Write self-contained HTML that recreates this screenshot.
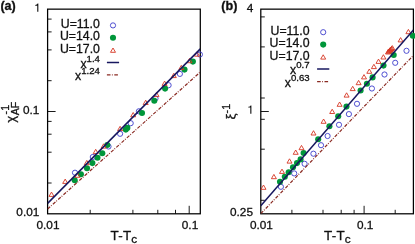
<!DOCTYPE html>
<html><head><meta charset="utf-8"><title>fig</title>
<style>
html,body{margin:0;padding:0;background:#fff;}
body{width:415px;height:244px;overflow:hidden;font-family:"Liberation Sans",sans-serif;}
svg{display:block;will-change:transform;}
svg text{font-family:"Liberation Sans",sans-serif;fill:#111;stroke:#111;stroke-width:0.3px;}
</style></head><body>
<svg width="415" height="244" viewBox="0 0 415 244">
<rect width="415" height="244" fill="#fff"/>
<clipPath id="ca"><rect x="47.6" y="9.15" width="152.70000000000002" height="204.65"/></clipPath>
<rect x="47.6" y="9.15" width="152.70000000000002" height="204.65" fill="none" stroke="#000" stroke-width="1.25"/>
<line x1="90.2" y1="213.8" x2="90.2" y2="209.8" stroke="#000" stroke-width="0.9"/>
<line x1="132.9" y1="213.8" x2="132.9" y2="209.8" stroke="#000" stroke-width="0.9"/>
<line x1="157.8" y1="213.8" x2="157.8" y2="209.8" stroke="#000" stroke-width="0.9"/>
<line x1="175.5" y1="213.8" x2="175.5" y2="209.8" stroke="#000" stroke-width="0.9"/>
<line x1="189.2" y1="213.8" x2="189.2" y2="205.8" stroke="#000" stroke-width="0.9"/>
<line x1="47.6" y1="19.1" x2="51.6" y2="19.1" stroke="#000" stroke-width="0.9"/>
<line x1="47.6" y1="31.9" x2="51.6" y2="31.9" stroke="#000" stroke-width="0.9"/>
<line x1="47.6" y1="49.9" x2="51.6" y2="49.9" stroke="#000" stroke-width="0.9"/>
<line x1="47.6" y1="80.7" x2="51.6" y2="80.7" stroke="#000" stroke-width="0.9"/>
<line x1="47.6" y1="121.4" x2="51.6" y2="121.4" stroke="#000" stroke-width="0.9"/>
<line x1="47.6" y1="134.2" x2="51.6" y2="134.2" stroke="#000" stroke-width="0.9"/>
<line x1="47.6" y1="152.2" x2="51.6" y2="152.2" stroke="#000" stroke-width="0.9"/>
<line x1="47.6" y1="183.0" x2="51.6" y2="183.0" stroke="#000" stroke-width="0.9"/>
<line x1="47.6" y1="111.5" x2="55.6" y2="111.5" stroke="#000" stroke-width="0.9"/>
<circle cx="199.9" cy="54.5" r="2.6" fill="none" stroke="#3d3dcc" stroke-width="0.9"/>
<circle cx="179.9" cy="73.9" r="2.6" fill="none" stroke="#3d3dcc" stroke-width="0.9"/>
<circle cx="168.6" cy="85.2" r="2.6" fill="none" stroke="#3d3dcc" stroke-width="0.9"/>
<circle cx="155.5" cy="98.4" r="2.6" fill="none" stroke="#3d3dcc" stroke-width="0.9"/>
<circle cx="138.9" cy="111.3" r="2.6" fill="none" stroke="#3d3dcc" stroke-width="0.9"/>
<circle cx="130.7" cy="123.2" r="2.6" fill="none" stroke="#3d3dcc" stroke-width="0.9"/>
<circle cx="120.1" cy="133.8" r="2.6" fill="none" stroke="#3d3dcc" stroke-width="0.9"/>
<circle cx="108.5" cy="146.5" r="2.6" fill="none" stroke="#3d3dcc" stroke-width="0.9"/>
<circle cx="92.8" cy="157.0" r="2.6" fill="none" stroke="#3d3dcc" stroke-width="0.9"/>
<circle cx="75.0" cy="172.7" r="2.6" fill="none" stroke="#3d3dcc" stroke-width="0.9"/>
<circle cx="192.9" cy="61.6" r="3.05" fill="#00963a"/>
<circle cx="184.5" cy="69.6" r="3.05" fill="#00963a"/>
<circle cx="165.1" cy="88.6" r="3.05" fill="#00963a"/>
<circle cx="154.3" cy="100.8" r="3.05" fill="#00963a"/>
<circle cx="142.0" cy="113.0" r="3.05" fill="#00963a"/>
<circle cx="127.3" cy="127.9" r="3.05" fill="#00963a"/>
<circle cx="125.8" cy="129.6" r="3.05" fill="#00963a"/>
<circle cx="107.3" cy="145.0" r="3.05" fill="#00963a"/>
<circle cx="102.3" cy="153.3" r="3.05" fill="#00963a"/>
<circle cx="97.5" cy="157.8" r="3.05" fill="#00963a"/>
<circle cx="92.4" cy="163.1" r="3.05" fill="#00963a"/>
<circle cx="87.0" cy="168.2" r="3.05" fill="#00963a"/>
<circle cx="80.9" cy="174.2" r="3.05" fill="#00963a"/>
<circle cx="74.7" cy="180.2" r="3.05" fill="#00963a"/>
<path d="M196.9 51.9L199.4 56.2L194.4 56.2Z" fill="none" stroke="#d63622" stroke-width="0.9" stroke-linejoin="miter"/>
<path d="M189.5 58.4L192.0 62.7L187.0 62.7Z" fill="none" stroke="#d63622" stroke-width="0.9" stroke-linejoin="miter"/>
<path d="M181.3 65.3L183.8 69.6L178.8 69.6Z" fill="none" stroke="#d63622" stroke-width="0.9" stroke-linejoin="miter"/>
<path d="M173.8 73.3L176.3 77.6L171.3 77.6Z" fill="none" stroke="#d63622" stroke-width="0.9" stroke-linejoin="miter"/>
<path d="M164.6 81.1L167.1 85.4L162.1 85.4Z" fill="none" stroke="#d63622" stroke-width="0.9" stroke-linejoin="miter"/>
<path d="M156.5 92.3L159.0 96.6L154.0 96.6Z" fill="none" stroke="#d63622" stroke-width="0.9" stroke-linejoin="miter"/>
<path d="M145.7 100.2L148.2 104.5L143.2 104.5Z" fill="none" stroke="#d63622" stroke-width="0.9" stroke-linejoin="miter"/>
<path d="M133.2 112.5L135.7 116.8L130.7 116.8Z" fill="none" stroke="#d63622" stroke-width="0.9" stroke-linejoin="miter"/>
<path d="M120.1 126.3L122.6 130.6L117.6 130.6Z" fill="none" stroke="#d63622" stroke-width="0.9" stroke-linejoin="miter"/>
<path d="M103.6 143.8L106.1 148.1L101.1 148.1Z" fill="none" stroke="#d63622" stroke-width="0.9" stroke-linejoin="miter"/>
<path d="M95.7 149.3L98.2 153.6L93.2 153.6Z" fill="none" stroke="#d63622" stroke-width="0.9" stroke-linejoin="miter"/>
<path d="M86.8 160.4L89.3 164.7L84.3 164.7Z" fill="none" stroke="#d63622" stroke-width="0.9" stroke-linejoin="miter"/>
<path d="M77.5 173.0L80.0 177.3L75.0 177.3Z" fill="none" stroke="#d63622" stroke-width="0.9" stroke-linejoin="miter"/>
<path d="M65.2 179.1L67.7 183.4L62.7 183.4Z" fill="none" stroke="#d63622" stroke-width="0.9" stroke-linejoin="miter"/>
<path d="M51.5 192.1L54.0 196.4L49.0 196.4Z" fill="none" stroke="#d63622" stroke-width="0.9" stroke-linejoin="miter"/>
<g clip-path="url(#ca)">
<line x1="47.6" y1="203.4" x2="200.3" y2="48.9" stroke="#17175f" stroke-width="1.5"/>
<line x1="47.6" y1="209.0" x2="200.3" y2="72.0" stroke="#8a2a22" stroke-width="1.2" stroke-dasharray="3.4 1.2 0.9 1.6"/>
</g>
<clipPath id="cb"><rect x="260.8" y="9.15" width="152.59999999999997" height="204.65"/></clipPath>
<rect x="260.8" y="9.15" width="152.59999999999997" height="204.65" fill="none" stroke="#000" stroke-width="1.25"/>
<line x1="291.9" y1="213.8" x2="291.9" y2="209.8" stroke="#000" stroke-width="0.9"/>
<line x1="323.0" y1="213.8" x2="323.0" y2="209.8" stroke="#000" stroke-width="0.9"/>
<line x1="341.2" y1="213.8" x2="341.2" y2="209.8" stroke="#000" stroke-width="0.9"/>
<line x1="354.1" y1="213.8" x2="354.1" y2="209.8" stroke="#000" stroke-width="0.9"/>
<line x1="395.2" y1="213.8" x2="395.2" y2="209.8" stroke="#000" stroke-width="0.9"/>
<line x1="364.1" y1="213.8" x2="364.1" y2="205.8" stroke="#000" stroke-width="0.9"/>
<line x1="260.8" y1="16.9" x2="264.8" y2="16.9" stroke="#000" stroke-width="0.9"/>
<line x1="260.8" y1="46.9" x2="264.8" y2="46.9" stroke="#000" stroke-width="0.9"/>
<line x1="260.8" y1="98.0" x2="264.8" y2="98.0" stroke="#000" stroke-width="0.9"/>
<line x1="260.8" y1="119.3" x2="264.8" y2="119.3" stroke="#000" stroke-width="0.9"/>
<line x1="260.8" y1="149.2" x2="264.8" y2="149.2" stroke="#000" stroke-width="0.9"/>
<line x1="260.8" y1="200.3" x2="264.8" y2="200.3" stroke="#000" stroke-width="0.9"/>
<line x1="260.8" y1="111.5" x2="268.8" y2="111.5" stroke="#000" stroke-width="0.9"/>
<circle cx="406.5" cy="50.8" r="2.6" fill="none" stroke="#3d3dcc" stroke-width="0.9"/>
<circle cx="395.2" cy="62.8" r="2.6" fill="none" stroke="#3d3dcc" stroke-width="0.9"/>
<circle cx="384.5" cy="74.5" r="2.6" fill="none" stroke="#3d3dcc" stroke-width="0.9"/>
<circle cx="371.9" cy="88.5" r="2.6" fill="none" stroke="#3d3dcc" stroke-width="0.9"/>
<circle cx="357.0" cy="103.8" r="2.6" fill="none" stroke="#3d3dcc" stroke-width="0.9"/>
<circle cx="348.9" cy="114.1" r="2.6" fill="none" stroke="#3d3dcc" stroke-width="0.9"/>
<circle cx="339.0" cy="124.8" r="2.6" fill="none" stroke="#3d3dcc" stroke-width="0.9"/>
<circle cx="327.6" cy="136.0" r="2.6" fill="none" stroke="#3d3dcc" stroke-width="0.9"/>
<circle cx="321.0" cy="145.2" r="2.6" fill="none" stroke="#3d3dcc" stroke-width="0.9"/>
<circle cx="313.4" cy="153.7" r="2.6" fill="none" stroke="#3d3dcc" stroke-width="0.9"/>
<circle cx="304.6" cy="163.8" r="2.6" fill="none" stroke="#3d3dcc" stroke-width="0.9"/>
<circle cx="294.2" cy="173.4" r="2.6" fill="none" stroke="#3d3dcc" stroke-width="0.9"/>
<circle cx="280.9" cy="186.8" r="2.6" fill="none" stroke="#3d3dcc" stroke-width="0.9"/>
<circle cx="412.8" cy="35.8" r="3.05" fill="#00963a"/>
<circle cx="393.7" cy="55.0" r="3.05" fill="#00963a"/>
<circle cx="383.5" cy="65.6" r="3.05" fill="#00963a"/>
<circle cx="372.6" cy="77.4" r="3.05" fill="#00963a"/>
<circle cx="366.9" cy="83.8" r="3.05" fill="#00963a"/>
<circle cx="360.6" cy="90.5" r="3.05" fill="#00963a"/>
<circle cx="346.5" cy="106.6" r="3.05" fill="#00963a"/>
<circle cx="338.2" cy="116.2" r="3.05" fill="#00963a"/>
<circle cx="329.4" cy="126.3" r="3.05" fill="#00963a"/>
<circle cx="318.2" cy="139.2" r="3.05" fill="#00963a"/>
<circle cx="303.6" cy="153.0" r="3.05" fill="#00963a"/>
<circle cx="300.6" cy="159.4" r="3.05" fill="#00963a"/>
<circle cx="297.0" cy="163.1" r="3.05" fill="#00963a"/>
<circle cx="293.0" cy="167.3" r="3.05" fill="#00963a"/>
<circle cx="288.7" cy="172.2" r="3.05" fill="#00963a"/>
<circle cx="284.8" cy="176.8" r="3.05" fill="#00963a"/>
<circle cx="280.0" cy="181.8" r="3.05" fill="#00963a"/>
<path d="M408.4 29.4L410.9 33.7L405.9 33.7Z" fill="none" stroke="#d63622" stroke-width="0.9" stroke-linejoin="miter"/>
<path d="M400.6 37.6L403.1 41.9L398.1 41.9Z" fill="none" stroke="#d63622" stroke-width="0.9" stroke-linejoin="miter"/>
<path d="M392.3 45.6L394.8 49.9L389.8 49.9Z" fill="none" stroke="#d63622" stroke-width="0.9" stroke-linejoin="miter"/>
<path d="M391.6 46.3L394.1 50.6L389.1 50.6Z" fill="none" stroke="#d63622" stroke-width="0.9" stroke-linejoin="miter"/>
<path d="M390.9 47.0L393.4 51.3L388.4 51.3Z" fill="none" stroke="#d63622" stroke-width="0.9" stroke-linejoin="miter"/>
<path d="M390.2 47.6L392.7 51.9L387.7 51.9Z" fill="none" stroke="#d63622" stroke-width="0.9" stroke-linejoin="miter"/>
<path d="M389.5 48.3L392.0 52.6L387.0 52.6Z" fill="none" stroke="#d63622" stroke-width="0.9" stroke-linejoin="miter"/>
<path d="M388.7 49.0L391.2 53.3L386.2 53.3Z" fill="none" stroke="#d63622" stroke-width="0.9" stroke-linejoin="miter"/>
<path d="M388.0 49.7L390.5 54.0L385.5 54.0Z" fill="none" stroke="#d63622" stroke-width="0.9" stroke-linejoin="miter"/>
<path d="M383.4 54.7L385.9 59.0L380.9 59.0Z" fill="none" stroke="#d63622" stroke-width="0.9" stroke-linejoin="miter"/>
<path d="M378.5 59.1L381.0 63.4L376.0 63.4Z" fill="none" stroke="#d63622" stroke-width="0.9" stroke-linejoin="miter"/>
<path d="M373.9 64.3L376.4 68.6L371.4 68.6Z" fill="none" stroke="#d63622" stroke-width="0.9" stroke-linejoin="miter"/>
<path d="M369.3 69.0L371.8 73.3L366.8 73.3Z" fill="none" stroke="#d63622" stroke-width="0.9" stroke-linejoin="miter"/>
<path d="M364.0 74.6L366.5 78.9L361.5 78.9Z" fill="none" stroke="#d63622" stroke-width="0.9" stroke-linejoin="miter"/>
<path d="M358.6 80.4L361.1 84.7L356.1 84.7Z" fill="none" stroke="#d63622" stroke-width="0.9" stroke-linejoin="miter"/>
<path d="M352.7 86.3L355.2 90.6L350.2 90.6Z" fill="none" stroke="#d63622" stroke-width="0.9" stroke-linejoin="miter"/>
<path d="M346.6 92.8L349.1 97.1L344.1 97.1Z" fill="none" stroke="#d63622" stroke-width="0.9" stroke-linejoin="miter"/>
<path d="M339.6 102.0L342.1 106.3L337.1 106.3Z" fill="none" stroke="#d63622" stroke-width="0.9" stroke-linejoin="miter"/>
<path d="M332.2 109.2L334.7 113.5L329.7 113.5Z" fill="none" stroke="#d63622" stroke-width="0.9" stroke-linejoin="miter"/>
<path d="M323.6 119.0L326.1 123.3L321.1 123.3Z" fill="none" stroke="#d63622" stroke-width="0.9" stroke-linejoin="miter"/>
<path d="M313.5 130.7L316.0 135.0L311.0 135.0Z" fill="none" stroke="#d63622" stroke-width="0.9" stroke-linejoin="miter"/>
<path d="M301.5 145.4L304.0 149.7L299.0 149.7Z" fill="none" stroke="#d63622" stroke-width="0.9" stroke-linejoin="miter"/>
<path d="M295.7 150.0L298.2 154.3L293.2 154.3Z" fill="none" stroke="#d63622" stroke-width="0.9" stroke-linejoin="miter"/>
<path d="M289.5 158.8L292.0 163.1L287.0 163.1Z" fill="none" stroke="#d63622" stroke-width="0.9" stroke-linejoin="miter"/>
<path d="M282.0 169.1L284.5 173.4L279.5 173.4Z" fill="none" stroke="#d63622" stroke-width="0.9" stroke-linejoin="miter"/>
<path d="M273.9 174.4L276.4 178.7L271.4 178.7Z" fill="none" stroke="#d63622" stroke-width="0.9" stroke-linejoin="miter"/>
<path d="M263.5 185.0L266.0 189.3L261.0 189.3Z" fill="none" stroke="#d63622" stroke-width="0.9" stroke-linejoin="miter"/>
<g clip-path="url(#cb)">
<line x1="260.8" y1="205.8" x2="413.4" y2="30.0" stroke="#17175f" stroke-width="1.5"/>
<line x1="260.8" y1="213.6" x2="413.4" y2="55.4" stroke="#8a2a22" stroke-width="1.2" stroke-dasharray="3.4 1.2 0.9 1.6"/>
</g>
<text x="0.4" y="10.2" font-size="12.6" text-anchor="start" font-weight="bold" >(a)</text>
<text x="221.3" y="10.2" font-size="12.6" text-anchor="start" font-weight="bold" >(b)</text>
<path d="M38.35 11.80L37.23 11.80L37.23 5.70L35.23 5.70L35.23 4.90C36.33 4.75 37.13 4.40 37.58 3.60L38.35 3.60Z" fill="#111"/>
<text x="39.3" y="114.0" font-size="11.8" text-anchor="end" font-weight="normal" >0.1</text>
<text x="39.3" y="216.4" font-size="11.8" text-anchor="end" font-weight="normal" >0.01</text>
<text x="48.0" y="228.6" font-size="11.8" text-anchor="middle" font-weight="normal" >0.01</text>
<text x="190.0" y="228.6" font-size="11.8" text-anchor="middle" font-weight="normal" >0.1</text>
<text x="253.3" y="12.2" font-size="11.8" text-anchor="end" font-weight="normal" >4</text>
<path d="M251.40 113.70L250.28 113.70L250.28 107.60L248.28 107.60L248.28 106.80C249.38 106.65 250.18 106.30 250.63 105.50L251.40 105.50Z" fill="#111"/>
<text x="253.0" y="216.4" font-size="11.8" text-anchor="end" font-weight="normal" >0.25</text>
<text x="261.4" y="228.6" font-size="11.8" text-anchor="middle" font-weight="normal" >0.01</text>
<text x="365.2" y="228.6" font-size="11.8" text-anchor="middle" font-weight="normal" >0.1</text>
<text x="124.0" y="239.8" font-size="13.4" text-anchor="middle" letter-spacing="0.25" stroke-width="0.12">T-T<tspan dy="3.1" font-size="11.8">c</tspan></text>
<text x="337.5" y="239.8" font-size="13.4" text-anchor="middle" letter-spacing="0.25" stroke-width="0.12">T-T<tspan dy="3.1" font-size="11.8">c</tspan></text>
<text transform="translate(14.6,122.8) rotate(-90)" font-size="13.4">χ<tspan dy="4.4" dx="0.5" font-size="10.7">AF</tspan></text>
<text transform="translate(9.2,114.4) rotate(-90)" font-size="10.7">-1</text>
<text transform="translate(234.6,119.4) rotate(-90)" font-size="13.4">ξ<tspan dy="-4.8" font-size="10.7">-1</tspan></text>
<text x="99.9" y="27.7" font-size="12.3" text-anchor="end" font-weight="normal" >U=11.0</text>
<text x="99.9" y="40.32" font-size="12.3" text-anchor="end" font-weight="normal" >U=14.0</text>
<text x="99.9" y="52.94" font-size="12.3" text-anchor="end" font-weight="normal" >U=17.0</text>
<circle cx="113.0" cy="25.4" r="2.6" fill="none" stroke="#3d3dcc" stroke-width="0.9"/>
<circle cx="113.0" cy="37.8" r="3.05" fill="#00963a"/>
<path d="M113.0 48.0L115.5 52.3L110.5 52.3Z" fill="none" stroke="#d63622" stroke-width="0.9" stroke-linejoin="miter"/>
<text x="99.9" y="67.5" font-size="12.3" text-anchor="end">x<tspan dy="-5.9" font-size="9.6">1.4</tspan></text>
<text x="99.9" y="79.9" font-size="12.3" text-anchor="end">x<tspan dy="-5.9" font-size="9.6">1.24</tspan></text>
<line x1="106.9" y1="62.5" x2="119.1" y2="62.5" stroke="#17175f" stroke-width="1.5"/>
<line x1="106.9" y1="74.9" x2="118.6" y2="74.9" stroke="#8a2a22" stroke-width="1.2" stroke-dasharray="3.6 1.4 0.8 1.6"/>
<text x="309.6" y="34.5" font-size="12.3" text-anchor="end" font-weight="normal" >U=11.0</text>
<text x="309.6" y="47.12" font-size="12.3" text-anchor="end" font-weight="normal" >U=14.0</text>
<text x="309.6" y="59.739999999999995" font-size="12.3" text-anchor="end" font-weight="normal" >U=17.0</text>
<circle cx="323.2" cy="32.2" r="2.6" fill="none" stroke="#3d3dcc" stroke-width="0.9"/>
<circle cx="323.2" cy="44.6" r="3.05" fill="#00963a"/>
<path d="M323.2 54.8L325.7 59.1L320.7 59.1Z" fill="none" stroke="#d63622" stroke-width="0.9" stroke-linejoin="miter"/>
<text x="309.6" y="74.0" font-size="12.3" text-anchor="end">x<tspan dy="-5.9" font-size="9.6">0.7</tspan></text>
<text x="309.6" y="86.6" font-size="12.3" text-anchor="end">x<tspan dy="-5.9" font-size="9.6">0.63</tspan></text>
<line x1="317.09999999999997" y1="69.0" x2="329.3" y2="69.0" stroke="#17175f" stroke-width="1.5"/>
<line x1="317.09999999999997" y1="81.6" x2="328.8" y2="81.6" stroke="#8a2a22" stroke-width="1.2" stroke-dasharray="3.6 1.4 0.8 1.6"/>
</svg>
</body></html>
